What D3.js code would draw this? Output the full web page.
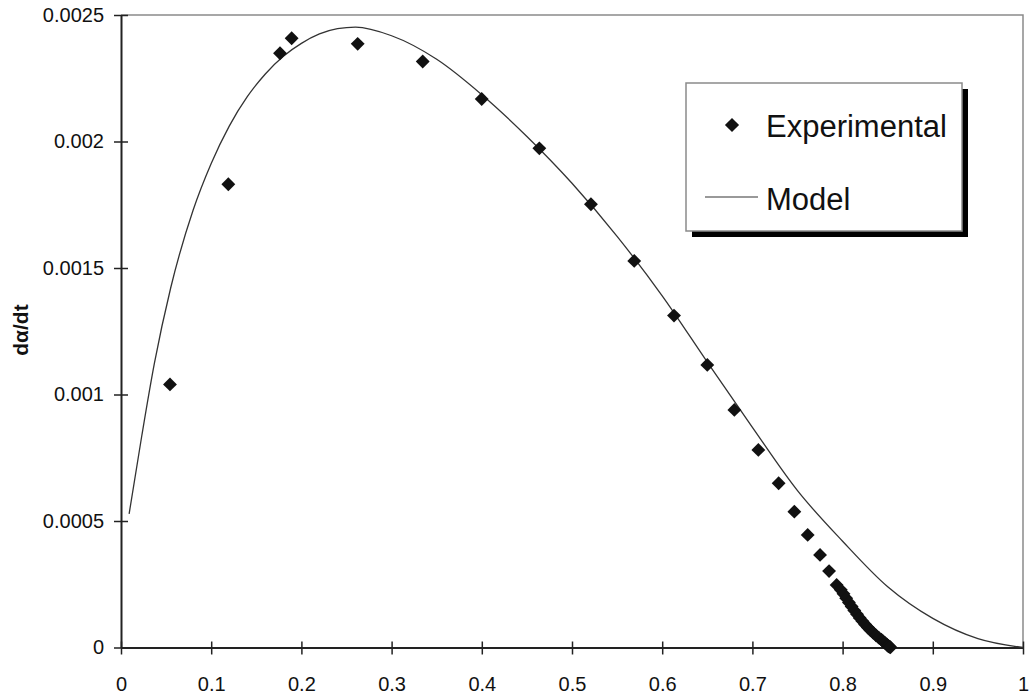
<!DOCTYPE html>
<html>
<head>
<meta charset="utf-8">
<script src="https://cdn.jsdelivr.net/npm/d3@7"></script>
<style>
  html, body { margin: 0; padding: 0; background: #fff; }
  svg { display: block; font-family: "Liberation Sans", Arial, sans-serif; }
</style>
</head>
<body>
<svg id="chart" width="1030" height="697"></svg>
<script>
// ---- data ----
const expAlpha = [0.0543, 0.119, 0.1763, 0.1892, 0.2624, 0.3345, 0.3999, 0.4638, 0.521, 0.569, 0.6131,
  0.650, 0.680, 0.7066, 0.7291, 0.7465, 0.7613, 0.775, 0.785, 0.7934,
  0.798, 0.801, 0.804, 0.807, 0.810, 0.813, 0.816, 0.819, 0.822, 0.825, 0.828, 0.831, 0.834,
  0.837, 0.840, 0.843, 0.845, 0.847, 0.849, 0.850, 0.851, 0.852, 0.853];
const expRate = [0.00104, 0.001831, 0.002349, 0.002408, 0.002386, 0.002316, 0.002168, 0.001973, 0.001752, 0.001528, 0.001312,
  0.001117, 0.000939, 0.000781, 0.000649, 0.000537, 0.000445, 0.000366, 0.000302, 0.000247,
  0.000228, 0.000212, 0.000195, 0.000178, 0.000162, 0.000146, 0.000131, 0.000117, 0.000104, 0.000091, 0.000079, 0.000068, 0.000058,
  0.000048, 0.000039, 0.000031, 0.000024, 0.000018, 0.000012, 0.000008, 0.000005, 0.000003, 0.000001];

const modelAlpha = [0.009, 0.023, 0.037, 0.055, 0.08, 0.10, 0.12, 0.14, 0.16, 0.18, 0.20, 0.22, 0.24, 0.26,
  0.30, 0.35, 0.40, 0.45, 0.50, 0.55, 0.60, 0.65, 0.70, 0.75, 0.80, 0.85, 0.90, 0.95, 1.00];
const modelRate = [0.000528, 0.000836, 0.001123, 0.00142, 0.001729, 0.001913, 0.002061, 0.002177, 0.002267, 0.002337,
  0.002388, 0.002425, 0.002446, 0.002452, 0.002418, 0.002325, 0.002185, 0.002020, 0.001835, 0.001625, 0.001390,
  0.001128, 0.000870, 0.000620, 0.000420, 0.000240, 0.000115, 0.000035, 0];

const xTicks = [0, 0.1, 0.2, 0.3, 0.4, 0.5, 0.6, 0.7, 0.8, 0.9, 1];
const xTickLabels = ["0", "0.1", "0.2", "0.3", "0.4", "0.5", "0.6", "0.7", "0.8", "0.9", "1"];
const yTicks = [0, 0.0005, 0.001, 0.0015, 0.002, 0.0025];
const yTickLabels = ["0", "0.0005", "0.001", "0.0015", "0.002", "0.0025"];
const yTitle = "dα/dt";
const legendLabels = ["Experimental", "Model"];

// ---- layout ----
const svg = d3.select("#chart");
const mLeft = 121, mRight = 1023, mTop = 15, mBottom = 647.5;
const x = d3.scaleLinear().domain([0, 1]).range([mLeft, mRight]);
const y = d3.scaleLinear().domain([0, 0.0025]).range([mBottom, mTop]);

// plot border (top / right) gray
svg.append("path")
  .attr("d", `M${mLeft},${mTop}H${mRight}V${mBottom}`)
  .attr("fill", "none").attr("stroke", "#8a8a8a").attr("stroke-width", 1.5);

// y axis
const yAxis = svg.append("g").attr("transform", `translate(${mLeft},0)`)
  .call(d3.axisLeft(y).tickValues(yTicks).tickFormat((d, i) => yTickLabels[i]).tickSize(0).tickPadding(17));
yAxis.select(".domain").attr("stroke", "#222").attr("stroke-width", 2);
yAxis.selectAll(".tick text").attr("font-size", 20).attr("fill", "#111")
  .attr("font-family", "Liberation Sans, Arial, sans-serif");
yAxis.selectAll(".tick").append("line").attr("x1", -7).attr("x2", 7)
  .attr("stroke", "#222").attr("stroke-width", 1.5);

// x axis
const xAxis = svg.append("g").attr("transform", `translate(0,${mBottom})`)
  .call(d3.axisBottom(x).tickValues(xTicks).tickFormat((d, i) => xTickLabels[i]).tickSize(0).tickPadding(29));
xAxis.select(".domain").attr("stroke", "#222").attr("stroke-width", 2);
xAxis.selectAll(".tick text").attr("font-size", 20).attr("fill", "#111")
  .attr("font-family", "Liberation Sans, Arial, sans-serif");
xAxis.selectAll(".tick").append("line").attr("y1", -6).attr("y2", 7)
  .attr("stroke", "#222").attr("stroke-width", 1.5);

// y title
svg.append("text")
  .attr("transform", `translate(28,330) rotate(-90)`)
  .attr("text-anchor", "middle")
  .attr("font-size", 21).attr("font-weight", "bold").attr("fill", "#111")
  .text(yTitle);

// model line
const model = modelAlpha.map((a, i) => [a, modelRate[i]]);
svg.append("path")
  .datum(model)
  .attr("fill", "none").attr("stroke", "#333").attr("stroke-width", 1.3)
  .attr("d", d3.line().x(d => x(d[0])).y(d => y(d[1])).curve(d3.curveMonotoneX));

// experimental points
const diamond = d3.symbol().type(d3.symbolSquare).size(96);
svg.append("g").selectAll("path")
  .data(expAlpha.map((a, i) => [a, expRate[i]]))
  .join("path")
  .attr("d", diamond)
  .attr("transform", d => `translate(${x(d[0])},${y(d[1])}) rotate(45)`)
  .attr("fill", "#111");

// legend
const lg = svg.append("g");
lg.append("rect").attr("x", 692).attr("y", 89).attr("width", 276).attr("height", 148).attr("fill", "#000");
lg.append("rect").attr("x", 686).attr("y", 83).attr("width", 276).attr("height", 148)
  .attr("fill", "#fff").attr("stroke", "#8a8a8a").attr("stroke-width", 1.5);
lg.append("path").attr("d", d3.symbol().type(d3.symbolSquare).size(100))
  .attr("transform", "translate(732,125) rotate(45)").attr("fill", "#111");
lg.append("text").attr("x", 766).attr("y", 137).attr("font-size", 31).attr("fill", "#111").text(legendLabels[0]);
lg.append("line").attr("x1", 705).attr("x2", 758).attr("y1", 197).attr("y2", 197)
  .attr("stroke", "#777").attr("stroke-width", 1.5);
lg.append("text").attr("x", 766).attr("y", 210).attr("font-size", 31).attr("fill", "#111").text(legendLabels[1]);
</script>
</body>
</html>
